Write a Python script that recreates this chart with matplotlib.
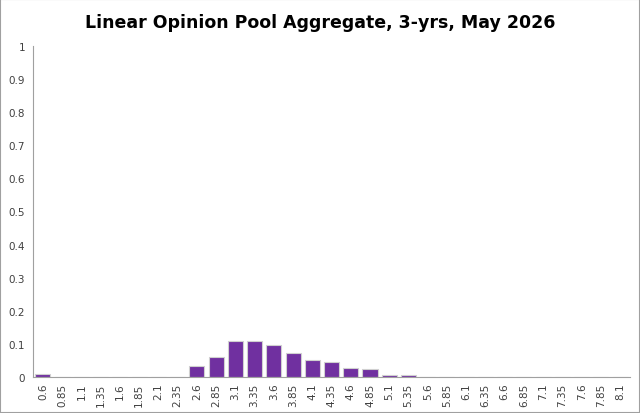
import matplotlib.pyplot as plt
import numpy as np

labels = [f"{0.6 + 0.25 * i:g}" for i in range(31)]
values = [0.010, 0, 0, 0, 0, 0, 0, 0, 0.034, 0.059, 0.110, 0.110, 0.098, 0.071,
          0.052, 0.044, 0.028, 0.025, 0.007, 0.007] + [0] * 11

fig = plt.figure(figsize=(6.4, 4.14), dpi=100)
ax = fig.add_axes([0.052, 0.087, 0.932, 0.8])
x = np.arange(len(labels))
ax.bar(x, values, width=0.78, color="#7030a0", edgecolor="#d0d0d0", linewidth=0.8)
ax.set_xlim(-0.5, len(labels) - 0.5)
ax.set_ylim(0, 1)
ax.set_yticks(np.arange(0, 1.01, 0.1))
ax.set_yticklabels(["0"] + [f"{v:g}" for v in np.arange(0.1, 1.01, 0.1)], fontsize=7.5, color="#404040")
ax.set_xticks(x)
ax.set_xticklabels(labels, rotation=90, fontsize=7.5, color="#404040")
ax.tick_params(axis="y", length=0, pad=6)
ax.tick_params(axis="x", length=0, pad=4)
for s in ["top", "right"]:
    ax.spines[s].set_visible(False)
ax.spines["left"].set_color("#a0a0a0")
ax.spines["bottom"].set_color("#a0a0a0")
fig.suptitle("Linear Opinion Pool Aggregate, 3-yrs, May 2026", y=0.965, fontsize=12.5, fontweight="bold")
fig.patches.append(plt.Rectangle((0, 0), 1, 1, transform=fig.transFigure, fill=False, edgecolor="#a0a0a0", linewidth=1.5))
fig.savefig("out.png", dpi=100)
